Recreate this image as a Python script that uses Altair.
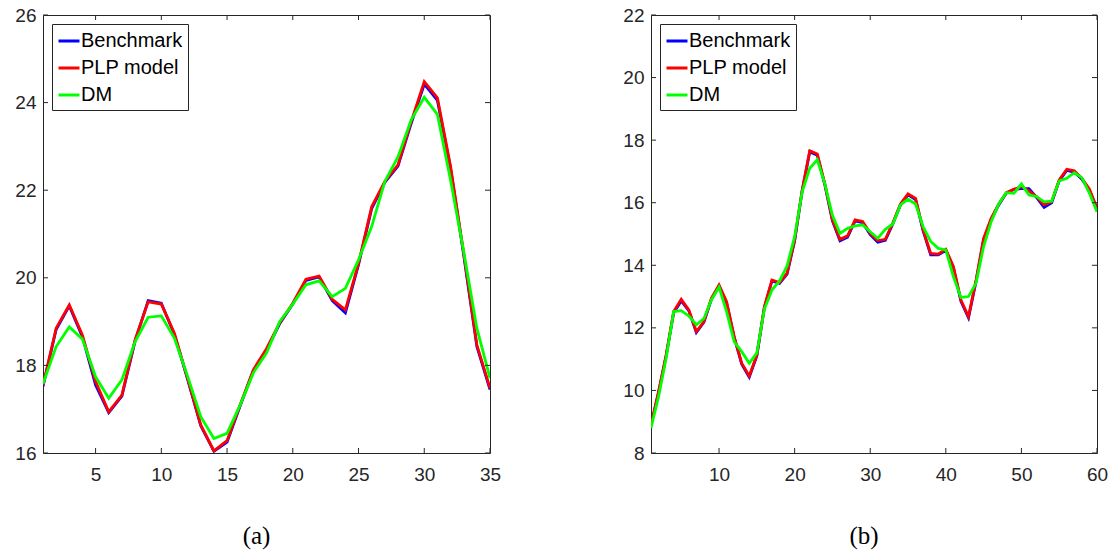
import altair as alt
import pandas as pd

# ---------------- data ----------------
series_names = ["Benchmark", "PLP model", "DM"]
series_colors = ["#0000FF", "#FF0000", "#00FF00"]

x_a = list(range(1, 36))
bench_a = [17.52, 18.82, 19.36, 18.65, 17.55, 16.92, 17.30, 18.55, 19.48, 19.42,
           18.70, 17.68, 16.62, 16.04, 16.25, 17.08, 17.88, 18.35, 18.95, 19.40,
           19.94, 20.02, 19.48, 19.20, 20.30, 21.58, 22.18, 22.55, 23.52, 24.42,
           24.05, 22.50, 20.52, 18.43, 17.45]
plp_a = [17.55, 18.85, 19.38, 18.69, 17.63, 16.94, 17.32, 18.58, 19.45, 19.40,
         18.73, 17.70, 16.64, 16.05, 16.28, 17.10, 17.90, 18.38, 18.97, 19.42,
         19.97, 20.04, 19.51, 19.27, 20.33, 21.62, 22.20, 22.58, 23.56, 24.48,
         24.11, 22.54, 20.56, 18.47, 17.48]
dm_a = [17.58, 18.43, 18.88, 18.60, 17.74, 17.25, 17.67, 18.54, 19.10, 19.13,
        18.62, 17.75, 16.83, 16.33, 16.45, 17.10, 17.83, 18.28, 19.00, 19.40,
        19.84, 19.93, 19.57, 19.76, 20.41, 21.17, 22.20, 22.76, 23.60, 24.12,
        23.73, 22.23, 20.60, 18.85, 17.71]

x_b = list(range(1, 61))
bench_b = [8.88, 9.93, 11.10, 12.48, 12.86, 12.55, 11.85, 12.18, 12.92, 13.34,
           12.80, 11.70, 10.84, 10.42, 11.10, 12.65, 13.50, 13.42, 13.72, 14.78,
           16.38, 17.62, 17.52, 16.57, 15.42, 14.78, 14.90, 15.42, 15.36, 14.98,
           14.74, 14.80, 15.33, 15.93, 16.25, 16.10, 15.10, 14.33, 14.33, 14.48,
           13.92, 12.85, 12.32, 13.48, 14.82, 15.46, 15.93, 16.30, 16.43, 16.45,
           16.45, 16.17, 15.85, 16.00, 16.70, 17.03, 16.98, 16.75, 16.40, 15.80]
plp_b = [8.90, 9.96, 11.13, 12.52, 12.91, 12.57, 11.88, 12.20, 12.95, 13.37,
         12.84, 11.72, 10.87, 10.46, 11.13, 12.68, 13.53, 13.45, 13.75, 14.81,
         16.41, 17.66, 17.56, 16.60, 15.45, 14.83, 14.94, 15.45, 15.40, 15.02,
         14.79, 14.83, 15.36, 15.96, 16.28, 16.14, 15.13, 14.38, 14.36, 14.51,
         13.96, 12.89, 12.36, 13.53, 14.86, 15.50, 15.96, 16.32, 16.43, 16.51,
         16.38, 16.19, 15.93, 16.03, 16.73, 17.07, 17.02, 16.78, 16.43, 15.82]
dm_b = [8.80, 9.80, 11.03, 12.52, 12.55, 12.38, 12.10, 12.30, 12.90, 13.30,
        12.52, 11.56, 11.24, 10.87, 11.20, 12.60, 13.21, 13.50, 13.98, 14.92,
        16.35, 17.10, 17.37, 16.60, 15.60, 15.02, 15.18, 15.26, 15.29, 15.07,
        14.86, 15.15, 15.32, 15.93, 16.11, 15.96, 15.23, 14.76, 14.54, 14.49,
        13.64, 12.97, 13.00, 13.43, 14.60, 15.39, 15.96, 16.32, 16.30, 16.60,
        16.25, 16.20, 16.03, 16.05, 16.70, 16.78, 16.96, 16.80, 16.30, 15.71]

xticks_a = [5, 10, 15, 20, 25, 30, 35]
yticks_a = [16, 18, 20, 22, 24, 26]
xticks_b = [10, 20, 30, 40, 50, 60]
yticks_b = [8, 10, 12, 14, 16, 18, 20, 22]

# ---------------- style ----------------
AX = "#262626"
TICK_FONT = "Liberation Sans"
TICK_SIZE = 19
H = 438
TL = 5  # inward tick length


def panel(xs, b, p, d, xdom, xticks, ydom, yticks, W, caption):
    rows = []
    for name, vals in zip(series_names, [b, p, d]):
        for xv, yv in zip(xs, vals):
            rows.append({"x": xv, "y": yv, "series": name})
    df = pd.DataFrame(rows)

    xscale = alt.Scale(domain=xdom, nice=False, zero=False)
    yscale = alt.Scale(domain=ydom, nice=False, zero=False)
    xaxis = alt.Axis(values=xticks, ticks=False, tickSize=0, domain=False,
                     grid=False, title=None, labelFont=TICK_FONT,
                     labelFontSize=TICK_SIZE, labelColor=AX,
                     labelPadding=12, labelFlush=False)
    yaxis = alt.Axis(values=yticks, ticks=False, tickSize=0, domain=False,
                     grid=False, title=None, labelFont=TICK_FONT,
                     labelFontSize=TICK_SIZE, labelColor=AX,
                     labelPadding=7, labelFlush=False)

    color = alt.Color(
        "series:N",
        scale=alt.Scale(domain=series_names, range=series_colors),
        legend=alt.Legend(
            title=None, orient="top-left", offset=9,
            strokeColor=AX, fillColor="white", padding=5, rowPadding=5,
            symbolType="stroke", symbolSize=441, symbolStrokeWidth=3,
            labelFontSize=20, labelFont=TICK_FONT, labelColor="black",
            labelOffset=0, cornerRadius=0,
        ),
    )
    base = alt.Chart(df).encode(
        x=alt.X("x:Q", scale=xscale, axis=xaxis),
        y=alt.Y("y:Q", scale=yscale, axis=yaxis),
        color=color,
    )
    lines = [
        base.transform_filter(alt.datum.series == s).mark_line(strokeWidth=2.8, clip=True)
        for s in series_names
    ]

    xt = alt.Chart(pd.DataFrame({"v": xticks}))
    yt = alt.Chart(pd.DataFrame({"v": yticks}))
    xv = alt.X("v:Q", scale=xscale, axis=xaxis)
    yv = alt.Y("v:Q", scale=yscale, axis=yaxis)
    rule = dict(color=AX, strokeWidth=1)
    ticks = [
        xt.mark_rule(**rule).encode(x=xv, y=alt.value(H), y2=alt.value(H - TL)),
        xt.mark_rule(**rule).encode(x=xv, y=alt.value(0), y2=alt.value(TL)),
        yt.mark_rule(**rule).encode(y=yv, x=alt.value(0), x2=alt.value(TL)),
        yt.mark_rule(**rule).encode(y=yv, x=alt.value(W), x2=alt.value(W - TL)),
    ]

    return alt.layer(*lines, *ticks).properties(
        width=W, height=H,
        view=alt.ViewBackground(stroke=AX, strokeWidth=1, fill="white"),
        title=alt.TitleParams(caption, orient="bottom", anchor="middle",
                              font="Liberation Serif", fontSize=25,
                              fontWeight="normal", color="black",
                              offset=40, dx=-10),
    )


left = panel(x_a, bench_a, plp_a, dm_a, [1, 35], xticks_a, [16, 26], yticks_a, 447, "(a)")
right = panel(x_b, bench_b, plp_b, dm_b, [1, 60], xticks_b, [8, 22], yticks_b, 446, "(b)")

chart = (
    alt.hconcat(left, right, spacing=161, bounds="flush")
    .resolve_legend(color="independent")
    .properties(padding={"left": 14, "top": 5, "right": 5, "bottom": 0})
    .configure_view(stroke=AX, strokeWidth=1)
    .configure(background="white")
)

chart.save("out.html", embed_options={"renderer": "svg", "actions": False})
